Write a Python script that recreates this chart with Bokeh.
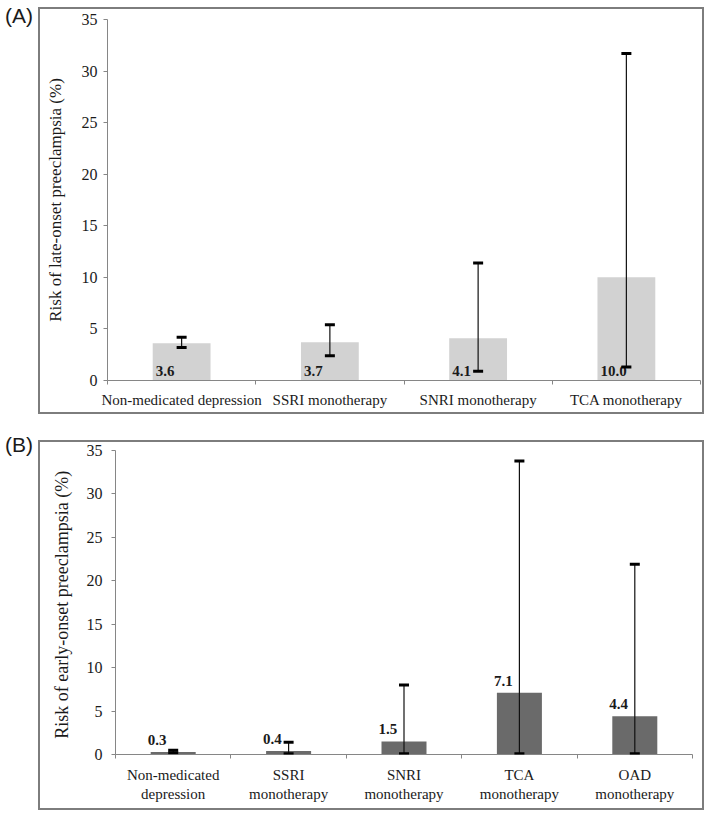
from bokeh.plotting import figure
from bokeh.models import (Range1d, FixedTicker, Whisker, TeeHead, ColumnDataSource,
                          Div, Spacer)
from bokeh.layouts import column, row
from bokeh.embed import file_html
from bokeh.resources import INLINE
from bokeh.core.properties import value

# ---------------- data ----------------
cats_a = ["Non-medicated depression", "SSRI monotherapy", "SNRI monotherapy", "TCA monotherapy"]
risk_a = [3.6, 3.7, 4.1, 10.0]
lower_a = [3.2, 2.4, 0.9, 1.3]
upper_a = [4.2, 5.4, 11.4, 31.7]
labels_a = ["3.6", "3.7", "4.1", "10.0"]

cats_b = ["Non-medicated\ndepression", "SSRI\nmonotherapy", "SNRI\nmonotherapy",
          "TCA\nmonotherapy", "OAD\nmonotherapy"]
risk_b = [0.3, 0.4, 1.5, 7.1, 4.4]
lower_b = [0.2, 0.1, 0.1, 0.1, 0.1]
upper_b = [0.5, 1.4, 8.0, 33.8, 21.9]
labels_b = ["0.3", "0.4", "1.5", "7.1", "4.4"]

y_ticks = [0, 5, 10, 15, 20, 25, 30, 35]

SERIF = "Liberation Serif"
SANS = "Liberation Sans"
AXIS_GRAY = "#868686"
TEXT = "#1a1a1a"


def make_panel(cats, vals, lo, hi, labels, ytitle, color, W, H, mb,
               label_mode, ytitle_size, ystand, tstand, xstand):
    n = len(cats)
    p = figure(width=W, height=H, x_range=Range1d(0, n), y_range=Range1d(0, 35),
               output_backend="svg", toolbar_location=None, tools="",
               min_border_left=mb[0], min_border_right=mb[1],
               min_border_top=mb[2], min_border_bottom=mb[3])
    p.outline_line_color = None
    p.grid.visible = False
    p.background_fill_color = "white"
    p.border_fill_color = "white"
    p.styles = {"border": "2px solid #7d7d7d"}

    centers = [i + 0.5 for i in range(n)]
    bw = 0.39
    src = ColumnDataSource(dict(x=centers, top=vals, lo=lo, hi=hi, lab=labels,
                                lx=[c - bw / 2 for c in centers]))
    p.vbar(x="x", top="top", width=bw, source=src, fill_color=color, line_color=None)

    if label_mode == "base":
        p.text(x="lx", y=0, text="lab", source=src, text_font=value(SERIF),
               text_font_style="bold", text_font_size="15px", text_color=TEXT,
               text_align="left", text_baseline="alphabetic", x_offset=3, y_offset=-10)
    else:
        p.text(x="lx", y="top", text="lab", source=src, text_font=value(SERIF),
               text_font_style="bold", text_font_size="15px", text_color=TEXT,
               text_align="left", text_baseline="alphabetic", x_offset=-3, y_offset=-12)

    wh = Whisker(source=src, base="x", upper="hi", lower="lo", dimension="height",
                 line_color="#111111", line_width=1.2, level="annotation",
                 upper_head=TeeHead(size=10, line_width=3, line_color="black"),
                 lower_head=TeeHead(size=10, line_width=3, line_color="black"))
    p.add_layout(wh)

    # x axis: labels at category centres, tick marks at category boundaries
    xa = p.xaxis[0]
    xa.ticker = FixedTicker(ticks=centers, minor_ticks=list(range(n + 1)))
    xa.major_label_overrides = {c: lab for c, lab in zip(centers, cats)}
    xa.major_tick_line_color = None
    xa.major_tick_out = 0
    xa.major_tick_in = 0
    xa.minor_tick_line_color = AXIS_GRAY
    xa.minor_tick_out = 4
    xa.minor_tick_in = 0
    xa.axis_line_color = AXIS_GRAY
    xa.major_label_text_font = SERIF
    xa.major_label_text_font_size = "15px"
    xa.major_label_text_color = TEXT
    xa.major_label_standoff = xstand

    ya = p.yaxis[0]
    ya.ticker = FixedTicker(ticks=y_ticks, minor_ticks=[])
    ya.axis_line_color = AXIS_GRAY
    ya.major_tick_line_color = AXIS_GRAY
    ya.major_tick_out = 4
    ya.major_tick_in = 0
    ya.minor_tick_line_color = None
    ya.major_label_text_font = SERIF
    ya.major_label_text_font_size = "16px"
    ya.major_label_text_color = TEXT
    ya.major_label_standoff = ystand
    ya.axis_label = ytitle
    ya.axis_label_text_font = SERIF
    ya.axis_label_text_font_style = "normal"
    ya.axis_label_text_font_size = ytitle_size
    ya.axis_label_text_color = TEXT
    ya.axis_label_standoff = tstand
    return p


pa = make_panel(cats_a, risk_a, lower_a, upper_a, labels_a,
                "Risk of late-onset preeclampsia (%)", "#d2d2d2",
                666, 407, (67, 6, 10, 36), "base", "17px", 6, 14, 7)
pb = make_panel(cats_b, risk_b, lower_b, upper_b, labels_b,
                "Risk of early-onset  preeclampsia (%)", "#6a6a6a",
                666, 370, (75, 14, 8, 58), "top", "18px", 9, 12, 8)

letter_style = {"font-family": SANS, "font-size": "21px", "line-height": "1",
                "color": TEXT}
div_a = Div(text="(A)", width=28, height=30, styles=letter_style)
div_b = Div(text="(B)", width=28, height=45, styles=dict(letter_style, **{"padding-top": "15px"}))

layout = column(
    row(div_a, column(Spacer(height=7), pa)),
    row(div_b, column(Spacer(height=26), pb)),
)

open("out.html", "w").write(file_html(layout, INLINE))
